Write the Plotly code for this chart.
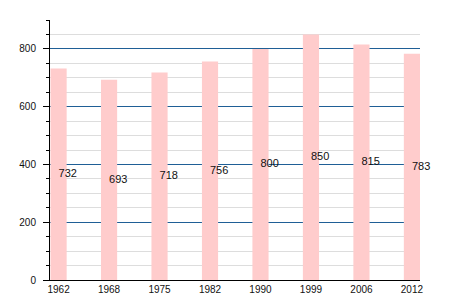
import plotly.graph_objects as go

years = ["1962", "1968", "1975", "1982", "1990", "1999", "2006", "2012"]
population = [732, 693, 718, 756, 800, 850, 815, 783]

fig = go.Figure()
fig.add_trace(go.Bar(
    x=years, y=population, width=0.32,
    marker=dict(color="#ffcccc", line=dict(width=0)),
    hoverinfo="skip",
))
fig.add_trace(go.Scatter(
    x=years, y=[v / 2 for v in population],
    mode="text", text=[str(v) for v in population],
    textposition="middle right",
    textfont=dict(family="Liberation Sans, Arial, sans-serif", size=11, color="#111111"),
    cliponaxis=False,
    hoverinfo="skip",
))

fig.update_layout(
    width=450, height=300,
    margin=dict(l=50, r=30, t=20, b=20, autoexpand=False),
    plot_bgcolor="white", paper_bgcolor="white",
    showlegend=False,
    font=dict(family="Liberation Sans, Arial, sans-serif", size=10, color="#111111"),
    xaxis=dict(
        type="category", range=[-0.17, 7.16], automargin=False,
        showgrid=False, showline=True, linecolor="black", linewidth=1,
        ticks="", tickfont=dict(size=10),
    ),
    yaxis=dict(
        range=[0, 900], dtick=200, tick0=0, automargin=False,
        showgrid=True, gridcolor="#1f5f96", gridwidth=1,
        showline=True, linecolor="black", linewidth=1,
        ticks="outside", ticklen=6, tickcolor="black",
        ticklabelstandoff=5,
        zeroline=False, tickfont=dict(size=10),
        minor=dict(dtick=50, showgrid=True, gridcolor="#dddddd", gridwidth=1,
                   ticks="outside", ticklen=3, tickcolor="black"),
    ),
)
fig.write_html("out.html")
